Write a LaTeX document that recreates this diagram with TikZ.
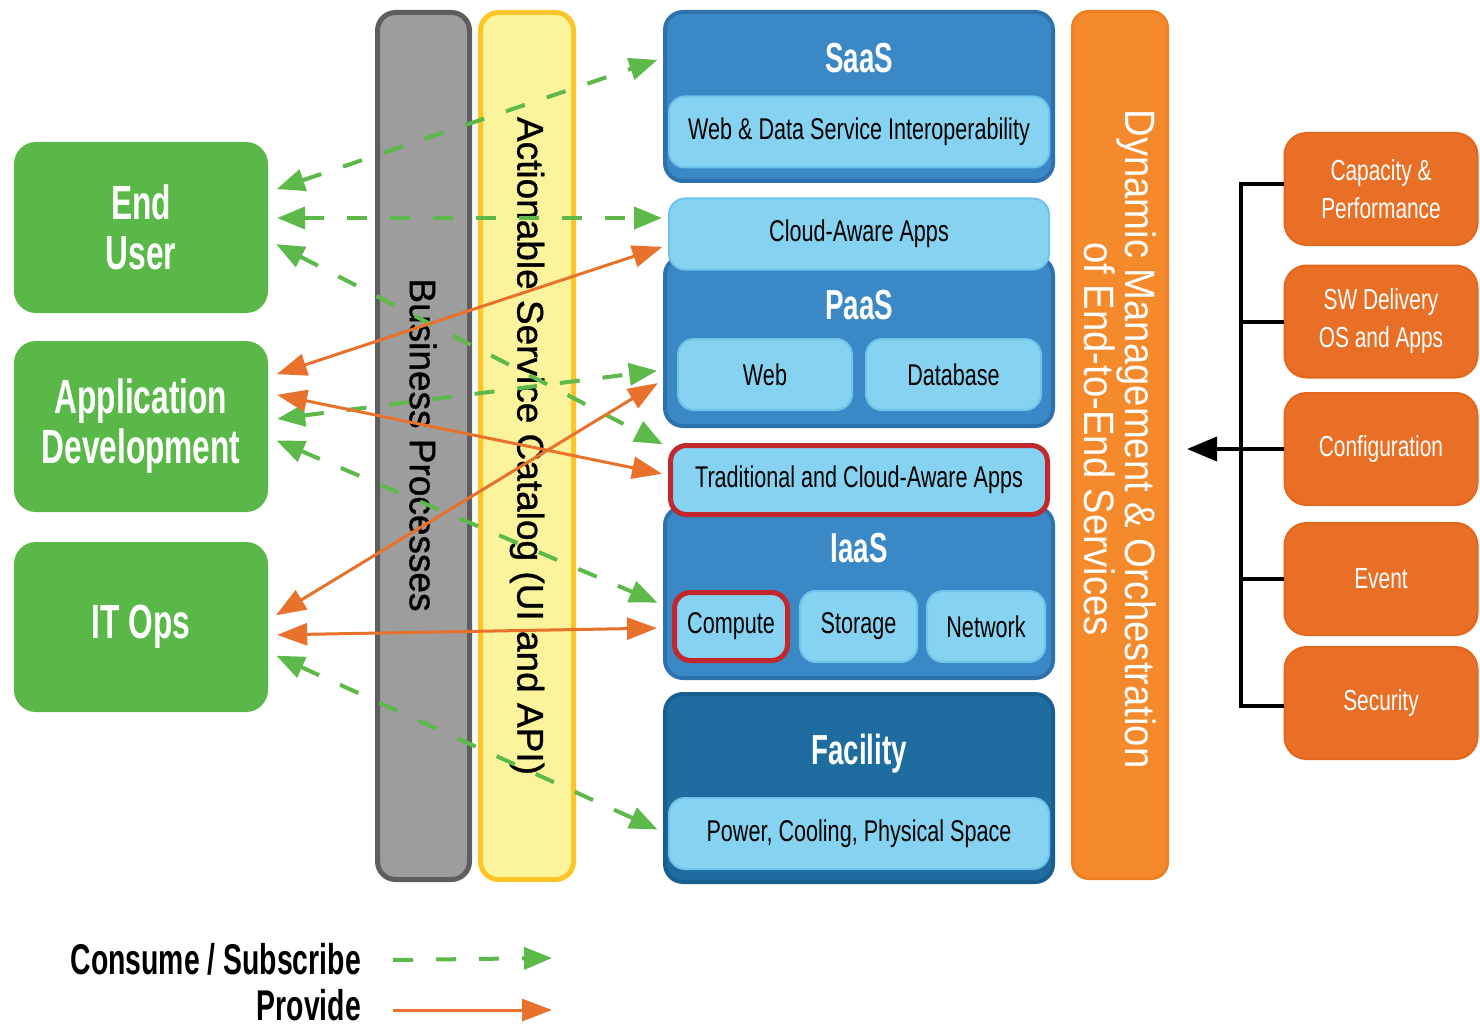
\documentclass[tikz,border=0pt]{standalone}
\usepackage{fontspec}
\setmainfont{Liberation Sans}
\newfontfamily\condr{Liberation Sans}[FakeStretch=0.72]
\newfontfamily\condb{Liberation Sans}[FakeStretch=0.66]
\newfontfamily\condm{Liberation Sans}[FakeStretch=0.9]
\newfontfamily\barfont{Liberation Sans}[FakeBold=1]
\usetikzlibrary{arrows.meta}
\definecolor{cgreen}{HTML}{5AB848}
\definecolor{cgreenA}{HTML}{5DB94A}
\definecolor{corange}{HTML}{E8722B}
\definecolor{cgrayF}{HTML}{9D9D9D}
\definecolor{cgrayD}{HTML}{5E5E5F}
\definecolor{cyelF}{HTML}{FBF49C}
\definecolor{cyelD}{HTML}{FFC425}
\definecolor{cblue}{HTML}{3A88C5}
\definecolor{cblueD}{HTML}{2D72AD}
\definecolor{cfac}{HTML}{1E6CA0}
\definecolor{cfacD}{HTML}{1A5E8F}
\definecolor{clight}{HTML}{86D3F1}
\definecolor{clightD}{HTML}{6FC4EA}
\definecolor{cred}{HTML}{C1272D}
\definecolor{cbar}{HTML}{F48A2B}
\definecolor{cbarD}{HTML}{EE7F24}
\definecolor{cobox}{HTML}{E86F25}
\definecolor{coboxD}{HTML}{E0691F}
\tikzset{
  greenbox/.style={fill=cgreen, rounded corners=22pt, minimum width=254pt, minimum height=171pt, inner sep=0pt, text=white, align=center, font=\condb\bfseries\fontsize{48}{50}\selectfont},
  vbar/.style={line width=5pt, rounded corners=18pt, minimum width=92pt, minimum height=867pt, inner sep=0pt},
  bartext/.style={rotate=-90, inner sep=0pt, font=\barfont\fontsize{37}{40}\selectfont},
  layer/.style={fill=cblue, draw=cblueD, line width=4pt, rounded corners=18pt, minimum width=388pt, inner sep=0pt},
  lightbox/.style={fill=clight, draw=clightD, line width=2pt, rounded corners=16pt, inner sep=0pt, minimum height=71pt, font=\condr\fontsize{30}{32}\selectfont},
  redbox/.style={draw=cred, line width=5pt},
  ltitle/.style={text=white, inner sep=0pt, font=\condb\bfseries\fontsize{42}{44}\selectfont},
  obox/.style={fill=cobox, draw=coboxD, line width=2pt, rounded corners=22pt, minimum width=193pt, minimum height=112pt, inner sep=0pt, text=white, align=center, font=\condr\fontsize{29}{38}\selectfont},
  consume/.style={draw=cgreenA, line width=4pt, dash pattern=on 20pt off 23pt, >={Triangle[length=28pt,width=22pt]}, shorten <=9pt, shorten >=6pt},
  provide/.style={draw=corange, line width=3pt, >={Triangle[length=30pt,width=22pt]}, shorten <=9pt, shorten >=6pt},
  blk/.style={draw=black, line width=4pt},
  legtext/.style={inner sep=0pt, anchor=east, font=\condb\bfseries\fontsize{43}{45}\selectfont}
}
\begin{document}
\begin{tikzpicture}[x=1pt,y=-1pt]
\useasboundingbox (0,0) rectangle (1480,1027);
\fill[white] (0,0) rectangle (1480,1027);

% left actor boxes
\node[greenbox] (eu) at (141,227.5) {End\\User};
\node[greenbox] (ad) at (141,426.5) {Application\\Development};
\node[greenbox, minimum height=170pt] (it) at (141,627) {IT Ops};

% vertical bars
\node[vbar, fill=cgrayF, draw=cgrayD] (bp) at (423.5,446) {};
\node[vbar, fill=cyelF, draw=cyelD, minimum width=93pt] (sc) at (527,446) {};
\node[bartext] (bpT) at (423,445) {Business Processes};
\node[bartext] (scT) at (527,446) {Actionable Service Catalog (UI and API)};

% SaaS
\node[layer, minimum height=169pt] (saas) at (859,96.5) {};
\node[ltitle] (saasT) at (859,58) {SaaS};
\node[lightbox, minimum width=380pt] (wds) at (859,132) {Web \& Data Service Interoperability};

% PaaS
\node[layer, minimum height=169pt] (paas) at (859,341.5) {};
\node[lightbox, minimum width=380pt] (caa) at (859,234) {Cloud-Aware Apps};
\node[ltitle] (paasT) at (859,305) {PaaS};
\node[lightbox, minimum width=174pt] (web) at (765,374.5) {Web};
\node[lightbox, minimum width=175pt] (db) at (953.5,374.5) {Database};

% IaaS
\node[layer, minimum height=171pt] (iaas) at (859,592.5) {};
\node[lightbox, redbox, minimum width=377pt, minimum height=69pt] (trad) at (859,480) {Traditional and Cloud-Aware Apps};
\node[ltitle] (iaasT) at (859,548) {IaaS};
\node[lightbox, redbox, minimum width=113pt, minimum height=68pt] (comp) at (731,626.5) {Compute};
\node[lightbox, minimum width=117pt] (stor) at (858.5,626.5) {Storage};
\node[lightbox, minimum width=118pt] (net) at (986,626.5) {Network};

% Facility
\node[layer, fill=cfac, draw=cfacD, minimum height=188pt] (fac) at (859,788) {};
\node[ltitle] (facT) at (859,754) {Facility};
\node[lightbox, minimum width=380pt] (psp) at (859,833.5) {Power, Cooling, Physical Space};

% orchestration bar
\node[fill=cbar, draw=cbarD, line width=3pt, rounded corners=16pt, minimum width=95pt, minimum height=867pt, inner sep=0pt] (dm) at (1120,445) {};
\node[rotate=-90, inner sep=0pt, text=white, align=center, font=\condm\fontsize{42.5}{31}\selectfont] (dmT) at (1120,439) {Dynamic Management \& Orchestration\\of End-to-End Services};

% right management boxes
\node[obox] (cap) at (1381,189) {Capacity \&\\Performance};
\node[obox] (sw) at (1381,321.5) {SW Delivery\\OS and Apps};
\node[obox] (cfg) at (1381,449) {Configuration};
\node[obox] (ev) at (1381,579) {Event};
\node[obox] (sec) at (1381,703) {Security};

\coordinate (bx) at (1241,449);
\coordinate (tipC) at (1187,449);
\draw[blk] ([yshift=5pt]cap.west) -- ([yshift=5pt]cap.west -| bx) -- ([yshift=-3pt]sec.west -| bx) -- ([yshift=-3pt]sec.west);
\draw[blk] (sw.west) -- (sw.west -| bx);
\draw[blk] (ev.west) -- (ev.west -| bx);
\draw[blk, -{Triangle[length=30pt,width=24pt]}] (cfg.west) -- (tipC);

% consume / subscribe connectors
\draw[consume, <->] ([yshift=35.5pt]eu.east) -- ([yshift=38.5pt]saas.west);
\draw[consume, <->] ([yshift=9.5pt]eu.east) -- ([yshift=16pt]caa.west);
\draw[consume, <->] ([yshift=-12.5pt]eu.east) -- ([yshift=33pt]trad.west);
\draw[consume, <->] ([yshift=6.5pt]ad.east) -- ([yshift=-28.5pt]paas.west);
\draw[consume, <->] ([yshift=-10.5pt]ad.east) -- ([yshift=-12.5pt]iaas.west);
\draw[consume, <->] ([yshift=-25pt]it.east) -- ([yshift=-44pt]fac.west);

% provide connectors
\draw[provide, <->] ([yshift=49.5pt]ad.east) -- ([yshift=-11pt]caa.west);
\draw[provide, <->] ([yshift=33.5pt]ad.east) -- ([yshift=5pt]trad.west);
\draw[provide, <->] ([yshift=7pt]it.east) -- ([yshift=-38.5pt]paas.west);
\draw[provide, <->] ([yshift=-8pt]it.east) -- ([yshift=-35.5pt]iaas.west);

% legend
\node[legtext] (lc) at (361,959) {Consume / Subscribe};
\node[legtext] (lp) at (361,1005) {Provide};
\coordinate (lce) at (552,958);
\coordinate (lpe) at (552,1010);
\draw[consume, ->, shorten <=0pt, shorten >=0pt] ([xshift=32pt,yshift=-1pt]lc.east) -- (lce);
\draw[provide, ->, shorten <=0pt, shorten >=0pt] (lp.east -| lc.east) ++(32,5) -- (lpe);
\end{tikzpicture}
\end{document}
